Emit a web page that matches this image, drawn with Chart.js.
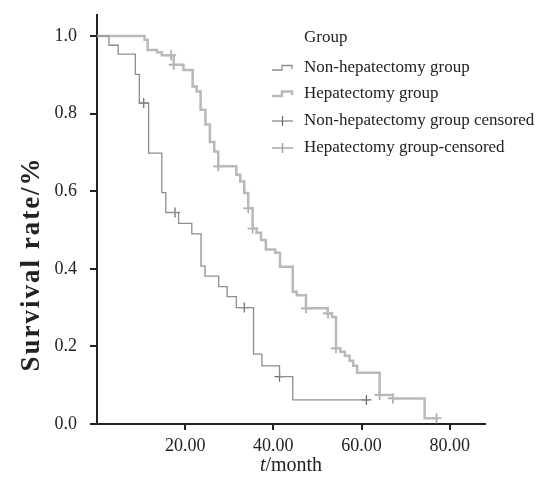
<!DOCTYPE html>
<html>
<head>
<meta charset="utf-8">
<script src="https://cdn.jsdelivr.net/npm/chart.js@4.4.0/dist/chart.umd.min.js"></script>
<style>
  html, body { margin: 0; padding: 0; background: #fff; }
  #wrap { width: 540px; height: 477px; position: relative; }
</style>
</head>
<body>
<div id="wrap"><canvas id="km"></canvas></div>
<script>
// Kaplan-Meier curves, values (time in months, survival rate)
const nonHepTime = [0, 2.7, 4.8, 8.7, 9.6, 11.7, 14.7, 15.6, 18.5, 21.5, 23.6, 24.5, 27.6, 29.5, 31.6, 35.5, 37.4, 41.4, 44.4, 61.5];
const nonHepSurv = [1.0, 0.976, 0.953, 0.901, 0.827, 0.698, 0.596, 0.545, 0.517, 0.490, 0.407, 0.381, 0.354, 0.328, 0.300, 0.180, 0.150, 0.122, 0.062, 0.062];
const nonHepCensTime = [10.6, 17.7, 33.4, 41.4, 61.1];
const nonHepCensSurv = [0.827, 0.545, 0.300, 0.122, 0.062];

const hepTime = [0, 10.8, 11.5, 13.6, 14.7, 17.4, 19.6, 21.7, 22.6, 23.5, 24.6, 25.6, 26.6, 27.5, 31.6, 32.5, 33.4, 34.3, 35.3, 36.2,
  37.2, 38.3, 40.4, 41.5, 44.4, 45.3, 47.4, 52.3, 53.3, 54.2, 55.2, 56.2, 57.3, 58.1, 59.0, 64.1, 67.1, 74.3, 77.3];
const hepSurv = [1.0, 0.990, 0.964, 0.958, 0.950, 0.926, 0.912, 0.870, 0.857, 0.810, 0.772, 0.727, 0.702, 0.664, 0.642, 0.625, 0.595, 0.556, 0.504, 0.493,
  0.474, 0.450, 0.441, 0.405, 0.341, 0.332, 0.298, 0.285, 0.276, 0.195, 0.186, 0.176, 0.163, 0.150, 0.132, 0.075, 0.066, 0.015, 0.015];
const hepCensTime = [16.8, 17.4, 27.5, 34.3, 35.3, 47.4, 52.4, 54.2, 64.1, 67.1, 77.0];
const hepCensSurv = [0.950, 0.926, 0.664, 0.556, 0.504, 0.298, 0.285, 0.195, 0.075, 0.066, 0.015];

const xTicks = [20, 40, 60, 80];
const yTicks = [0, 0.2, 0.4, 0.6, 0.8, 1.0];
const legendTitle = 'Group';
const seriesNames = ['Non-hepatectomy group', 'Hepatectomy group', 'Non-hepatectomy group censored', 'Hepatectomy group-censored'];

const SERIF = "'Liberation Serif', 'Times New Roman', serif";
const INK = '#222';
const NON_COLOR = '#8e8e8e';
const HEP_COLOR = '#b9b9b9';

function toPoints(xs, ys) {
    return xs.map((x, i) => ({ x: x, y: ys[i] }));
}

// legend + axis titles drawn by hand (step-line symbols, italic t)
const decor = {
    id: 'decor',
    afterDraw(chart) {
        const ctx = chart.ctx;
        ctx.save();
        ctx.fillStyle = INK;
        ctx.textBaseline = 'middle';
        ctx.textAlign = 'left';
        ctx.font = '17px ' + SERIF;
        ctx.fillText(legendTitle, 304, 38);

        const rows = [68, 94, 121, 148];
        const styles = [
            { color: NON_COLOR, width: 1.3, kind: 'step' },
            { color: HEP_COLOR, width: 2.5, kind: 'step' },
            { color: '#666', width: 1.2, kind: 'cross' },
            { color: '#a8a8a8', width: 1.6, kind: 'cross' }
        ];
        rows.forEach((y, i) => {
            const s = styles[i];
            ctx.strokeStyle = s.color;
            ctx.lineWidth = s.width;
            ctx.beginPath();
            if (s.kind === 'step') {
                ctx.moveTo(272, y + 2);
                ctx.lineTo(282, y + 2);
                ctx.lineTo(282, y - 2.5);
                ctx.lineTo(292, y - 2.5);
                ctx.lineTo(292, y + 1);
            } else {
                ctx.moveTo(272, y);
                ctx.lineTo(293, y);
                ctx.moveTo(282.5, y - 5);
                ctx.lineTo(282.5, y + 5);
            }
            ctx.stroke();
            ctx.fillStyle = INK;
            ctx.fillText(seriesNames[i], 304, y);
        });

        // x title: italic t + /month
        ctx.font = 'italic 20px ' + SERIF;
        const tW = ctx.measureText('t').width;
        ctx.font = '20px ' + SERIF;
        const restW = ctx.measureText('/month').width;
        const x0 = 291 - (tW + restW) / 2;
        ctx.font = 'italic 20px ' + SERIF;
        ctx.fillText('t', x0, 466);
        ctx.font = '20px ' + SERIF;
        ctx.fillText('/month', x0 + tW, 466);

        // y title
        ctx.translate(32, 264);
        ctx.rotate(-Math.PI / 2);
        ctx.textAlign = 'center';
        ctx.font = 'bold 27px ' + SERIF;
        ctx.letterSpacing = '2px';
        ctx.fillText('Survival rate/%', 0, 0);
        ctx.letterSpacing = '0px';
        ctx.restore();
    }
};

document.addEventListener('DOMContentLoaded', function() {
    const ctx = document.getElementById('km').getContext('2d');
    new Chart(ctx, {
        type: 'line',
        data: {
            datasets: [{
                label: seriesNames[0],
                data: toPoints(nonHepTime, nonHepSurv),
                borderColor: NON_COLOR,
                borderWidth: 1.3,
                stepped: true,
                pointRadius: 0,
                fill: false
            },
            {
                label: seriesNames[1],
                data: toPoints(hepTime, hepSurv),
                borderColor: HEP_COLOR,
                borderWidth: 2.5,
                stepped: true,
                pointRadius: 0,
                fill: false
            },
            {
                label: seriesNames[2],
                data: toPoints(nonHepCensTime, nonHepCensSurv),
                showLine: false,
                pointStyle: 'cross',
                pointRadius: 5,
                pointBorderWidth: 1.2,
                pointBorderColor: '#666'
            },
            {
                label: seriesNames[3],
                data: toPoints(hepCensTime, hepCensSurv),
                showLine: false,
                pointStyle: 'cross',
                pointRadius: 5,
                pointBorderWidth: 1.6,
                pointBorderColor: '#a8a8a8'
            }]
        },
        options: {
            responsive: true,
            maintainAspectRatio: false,
            animation: false,
            layout: { padding: { top: 15, right: 55, left: 0, bottom: 0 } },
            plugins: {
                legend: { display: false },
                tooltip: { enabled: false }
            },
            scales: {
                x: {
                    type: 'linear',
                    min: 0,
                    max: 88,
                    afterBuildTicks: s => { s.ticks = xTicks.map(v => ({ value: v })); },
                    afterFit: s => { s.height = 53; },
                    grid: { drawOnChartArea: false, drawTicks: true, tickLength: 6, color: INK, lineWidth: 2 },
                    border: { display: true, color: INK, width: 2 },
                    ticks: {
                        callback: v => v.toFixed(2),
                        color: INK,
                        padding: 5,
                        maxRotation: 0,
                        autoSkip: false,
                        font: { family: SERIF, size: 18 }
                    }
                },
                y: {
                    min: 0,
                    max: 1.054,
                    afterBuildTicks: s => { s.ticks = yTicks.map(v => ({ value: v })); },
                    afterFit: s => { s.width = 97; s.paddingTop = 0; },
                    grid: { drawOnChartArea: false, drawTicks: true, tickLength: 7, color: INK, lineWidth: 2 },
                    border: { display: true, color: INK, width: 2 },
                    ticks: {
                        callback: v => v.toFixed(1),
                        color: INK,
                        padding: 13,
                        font: { family: SERIF, size: 18 }
                    }
                }
            }
        },
        plugins: [decor]
    });
});
</script>
</body>
</html>
